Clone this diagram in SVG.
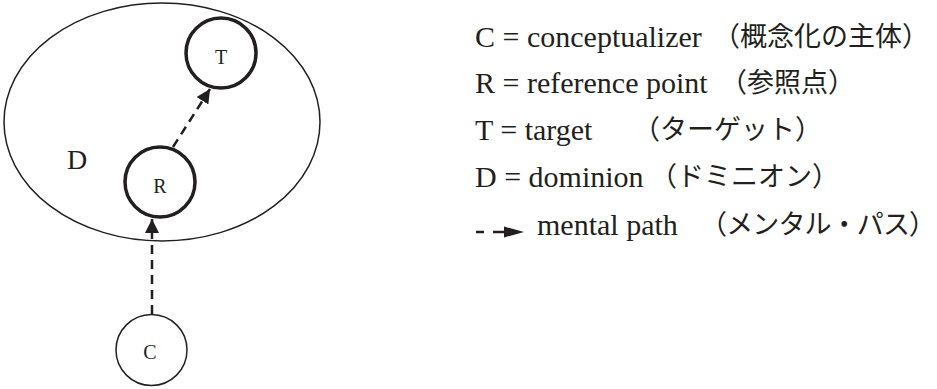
<svg xmlns="http://www.w3.org/2000/svg" width="937" height="389" viewBox="0 0 937 389">
<defs>
<marker id="ah" viewBox="0 0 14 14" refX="14" refY="7" markerWidth="14" markerHeight="14" markerUnits="userSpaceOnUse" orient="auto">
<path d="M0,0 L14,7 L0,14 Z" fill="#231f20"/>
</marker>
<style>
.lat{font-family:"Liberation Serif","Times New Roman",serif;fill:#231f20}
.cjk{font-family:"Noto Sans CJK JP",sans-serif;fill:#231f20;font-size:27px}
.leg{font-size:30px}
.node{fill:none;stroke:#231f20}
.thick{stroke-width:3.5}
.thin{stroke-width:1.5}
.lbl{font-size:20px;text-anchor:middle}
.dash{fill:none;stroke:#231f20;stroke-width:2.5;stroke-dasharray:9 6}
</style>
</defs>
<rect width="937" height="389" fill="#ffffff"/>
<g id="dominion">
<ellipse class="node thin" cx="162" cy="122" rx="158" ry="119"/>
<text class="lat" x="67" y="169" font-size="28">D</text>
</g>
<g id="T">
<circle class="node thick" cx="221" cy="53" r="35"/>
<text class="lat lbl" x="221" y="64">T</text>
</g>
<g id="R">
<circle class="node thick" cx="160" cy="182" r="35"/>
<text class="lat lbl" x="160" y="193">R</text>
</g>
<g id="C">
<circle class="node thin" cx="151.5" cy="350" r="35.5"/>
<text class="lat lbl" x="150" y="359">C</text>
</g>
<g id="connectors">
<line class="dash" x1="152" y1="314" x2="152" y2="219" marker-end="url(#ah)"/>
<line class="dash" x1="173" y1="147" x2="210" y2="89" marker-end="url(#ah)"/>
</g>
<g id="legend">
<text class="lat leg" x="475" y="47">C = conceptualizer</text>
<text class="cjk" x="713" y="46">（概念化の主体）</text>
<text class="lat leg" x="475" y="93">R = reference point</text>
<text class="cjk" x="720" y="92">（参照点）</text>
<text class="lat leg" x="475" y="140">T = target</text>
<text class="cjk" x="633" y="139">（ターゲット）</text>
<text class="lat leg" x="475" y="187">D = dominion</text>
<text class="cjk" x="650" y="186">（ドミニオン）</text>
<line x1="476" y1="232" x2="484" y2="232" stroke="#231f20" stroke-width="2.5"/>
<line x1="493" y1="232" x2="504" y2="232" stroke="#231f20" stroke-width="2.5"/>
<path d="M504,226.5 L524,232 L504,237.5 Z" fill="#231f20"/>
<text class="lat leg" x="537" y="235">mental path</text>
<text class="cjk" x="700" y="234" font-size="26" textLength="236" lengthAdjust="spacing">（メンタル・パス）</text>
</g>
</svg>
